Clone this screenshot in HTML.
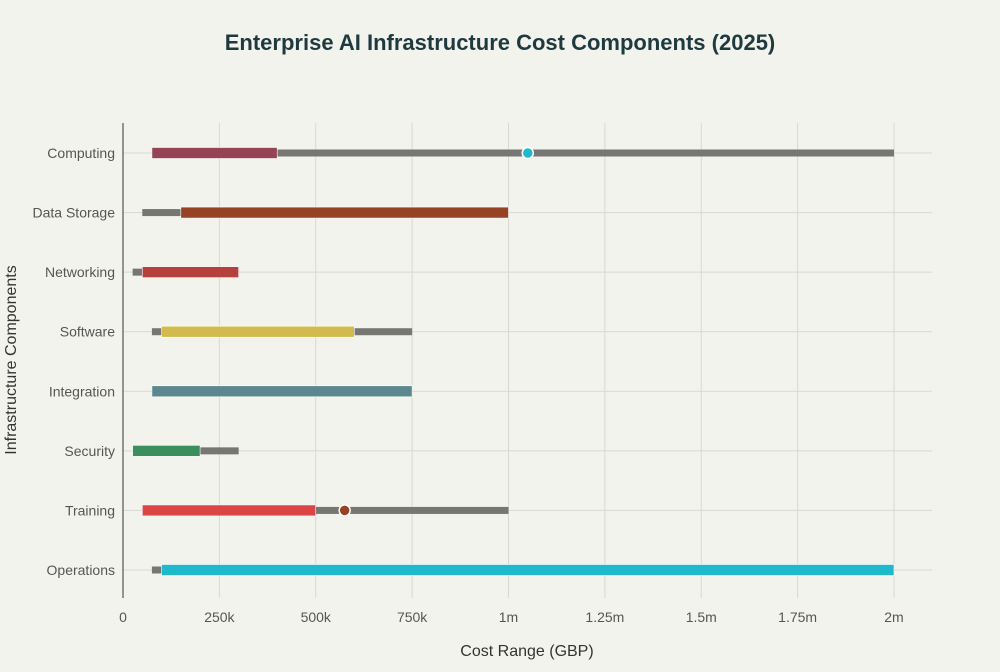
<!DOCTYPE html>
<html><head><meta charset="utf-8"><style>
body{margin:0;background:#f3f3ee;font-family:"Liberation Sans",sans-serif;}
svg text{font-family:"Liberation Sans",sans-serif;}
</style></head><body>
<svg id="c" width="1000" height="667">
<rect width="1000" height="667" fill="#f3f3ee"/>
<text x="500" y="50" text-anchor="middle" font-size="22" font-weight="bold" fill="#1f3a3f">Enterprise AI Infrastructure Cost Components (2025)</text>
<text x="527" y="656" text-anchor="middle" font-size="16" fill="#333">Cost Range (GBP)</text>
<text transform="translate(16,360) rotate(-90)" text-anchor="middle" font-size="16" fill="#333">Infrastructure Components</text>
<g id="grid"></g><g id="marks"></g>
</svg>
<script>
const categories=["Computing","Data Storage","Networking","Software","Integration","Security","Training","Operations"];
const rangeMin=[75000,50000,25000,75000,75000,25000,50000,75000];
const rangeMax=[2000000,1000000,300000,750000,750000,300000,1000000,2000000];
const typMin=[75000,150000,50000,100000,75000,25000,50000,100000];
const typMax=[400000,1000000,300000,600000,750000,200000,500000,2000000];
const colors=["#944454","#964325","#b4413c","#d2ba4c","#5d878f","#3a8f5d","#db4545","#1fb8cd"];
const points=[{i:0,v:1050000,c:"#1fb8cd"},{i:6,v:575000,c:"#964325"}];
const tickVals=[0,250000,500000,750000,1000000,1250000,1500000,1750000,2000000];
const tickLabels=["0","250k","500k","750k","1m","1.25m","1.5m","1.75m","2m"];
const NS="http://www.w3.org/2000/svg";
const x=v=>123+v*(894-123)/2000000;
const y=i=>153+i*(570-153)/7;
function mk(p,t,a){const e=document.createElementNS(NS,t);for(const k in a)e.setAttribute(k,a[k]);p.appendChild(e);return e;}
const g=document.getElementById('grid'),m=document.getElementById('marks');
tickVals.forEach((v,k)=>{
 const l=mk(g,'line',{x1:x(v),x2:x(v),y1:123,y2:598,stroke:'#d8d8d3','stroke-width':1});
 
 
 const t=mk(g,'text',{x:x(v),y:622,'text-anchor':'middle','font-size':14,fill:'#555'});
 t.textContent=tickLabels[k];
 
 
});
categories.forEach((c,i)=>{
 const l=mk(g,'line',{x1:123,x2:932,y1:y(i),y2:y(i),stroke:'#d8d8d3','stroke-width':1});
 
 
 const t=mk(g,'text',{x:115,y:y(i)+5,'text-anchor':'end','font-size':14,fill:'#555'});
 t.textContent=c;
 
 
});
const ax=mk(g,'line',{x1:123,x2:123,y1:123,y2:598,stroke:'#333','stroke-width':1});


categories.forEach((c,i)=>{
 const r=mk(m,'rect',{x:x(rangeMin[i]),y:y(i)-3.5,width:x(rangeMax[i])-x(rangeMin[i]),height:7,fill:'#767672'});
 
 
 const b=mk(m,'rect',{x:x(typMin[i]),y:y(i)-5.5,width:x(typMax[i])-x(typMin[i]),height:11,fill:colors[i],stroke:'#fff','stroke-width':0.6});
 
 
});
points.forEach(p=>{
 const d=mk(m,'circle',{cx:x(p.v),cy:y(p.i),r:5.5,fill:p.c,stroke:'#fff','stroke-width':1.5});
 
 
});
</script>
</body></html>
